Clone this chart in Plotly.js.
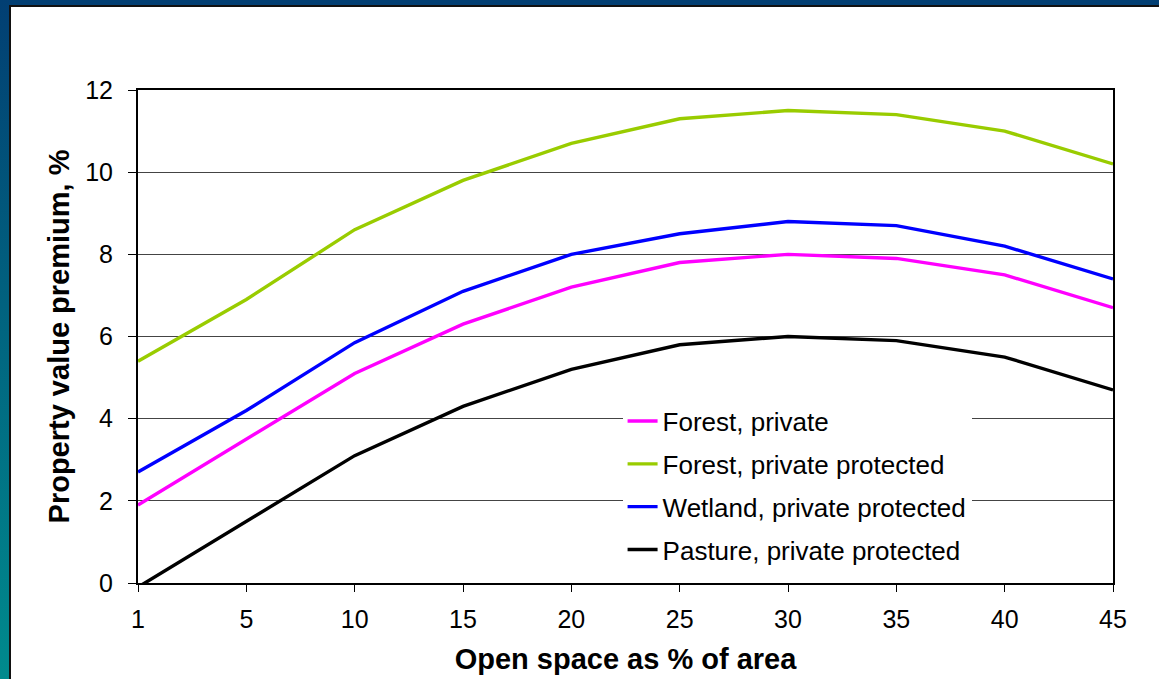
<!DOCTYPE html>
<html>
<head>
<meta charset="utf-8">
<script src="https://cdn.plot.ly/plotly-3.0.1.min.js"></script>
<style>
  html, body { margin: 0; padding: 0; background: #ffffff; }
  #wrap { position: relative; width: 1159px; height: 679px; overflow: hidden; background: #fff; }
  #chart { position: absolute; left: 0; top: 0; width: 1159px; height: 679px; }
  #topband { position: absolute; left: 0; top: 0; width: 1159px; height: 5px; background: #023f73; }
  #topline { position: absolute; left: 9px; top: 5px; width: 1150px; height: 2px; background: #111; }
  #leftband { position: absolute; left: 0; top: 0; width: 9px; height: 679px;
              background: linear-gradient(to bottom, #023f73 0%, #01627f 45%, #008a8d 100%); }
  #leftline { position: absolute; left: 9px; top: 5px; width: 2px; height: 674px; background: #111; }
</style>
</head>
<body>
<div id="wrap">
  <div id="chart"></div>
  <div id="topband"></div>
  <div id="leftband"></div>
  <div id="topline"></div>
  <div id="leftline"></div>
</div>
<script>
const categories = ["1", "5", "10", "15", "20", "25", "30", "35", "40", "45"];
const forestPrivate = [1.9, 3.5, 5.1, 6.3, 7.2, 7.8, 8.0, 7.9, 7.5, 6.7];
const forestProtected = [5.4, 6.9, 8.6, 9.8, 10.7, 11.3, 11.5, 11.4, 11.0, 10.2];
const wetlandProtected = [2.7, 4.2, 5.85, 7.1, 8.0, 8.5, 8.8, 8.7, 8.2, 7.4];
const pastureProtected = [-0.1, 1.5, 3.1, 4.3, 5.2, 5.8, 6.0, 5.9, 5.5, 4.7];
const seriesNames = ["Forest, private", "Forest, private protected", "Wetland, private protected", "Pasture, private protected"];
const seriesColors = ["#ff00ff", "#99cc00", "#0000ff", "#000000"];
const seriesValues = [forestPrivate, forestProtected, wetlandProtected, pastureProtected];

const FONT = "Liberation Sans, Arial, Helvetica, sans-serif";

const traces = seriesValues.map((vals, i) => ({
  type: "scatter",
  mode: "lines",
  x: categories,
  y: vals,
  name: seriesNames[i],
  legendgroup: "g" + i,
  line: { color: seriesColors[i], width: 3.4 }
}));

const layout = {
  width: 1159,
  height: 679,
  paper_bgcolor: "#ffffff",
  plot_bgcolor: "#ffffff",
  margin: { l: 138, r: 46, t: 90, b: 96 },
  font: { family: FONT, color: "#000", size: 25 },
  showlegend: true,
  legend: {
    x: 0.497, xanchor: "left",
    y: 0.376, yanchor: "top",
    bgcolor: "#ffffff",
    borderwidth: 0,
    font: { family: FONT, size: 26, color: "#000" },
    tracegroupgap: 6
  },
  xaxis: {
    type: "category",
    range: [0, 9],
    showgrid: false,
    zeroline: false,
    showline: true,
    linecolor: "#000",
    linewidth: 2,
    mirror: true,
    ticks: "outside",
    ticklen: 7,
    tickwidth: 1,
    tickcolor: "#000",
    tickfont: { family: FONT, size: 25, color: "#000" },
    ticklabelstandoff: 6,
    title: {
      text: "<b>Open space as % of area</b>",
      font: { family: FONT, size: 29, color: "#000" },
      standoff: 17
    }
  },
  yaxis: {
    range: [0, 12],
    dtick: 2,
    tick0: 0,
    showgrid: true,
    gridcolor: "#444",
    gridwidth: 1,
    zeroline: false,
    showline: true,
    linecolor: "#000",
    linewidth: 2,
    mirror: true,
    ticks: "outside",
    ticklen: 8,
    tickwidth: 1,
    tickcolor: "#000",
    tickfont: { family: FONT, size: 25, color: "#000" },
    ticklabelstandoff: 10,
    title: {
      text: "<b>Property value premium, %</b>",
      font: { family: FONT, size: 29, color: "#000" },
      standoff: 7
    }
  }
};

Plotly.newPlot("chart", traces, layout, { displayModeBar: false, staticPlot: true });
</script>
</body>
</html>
